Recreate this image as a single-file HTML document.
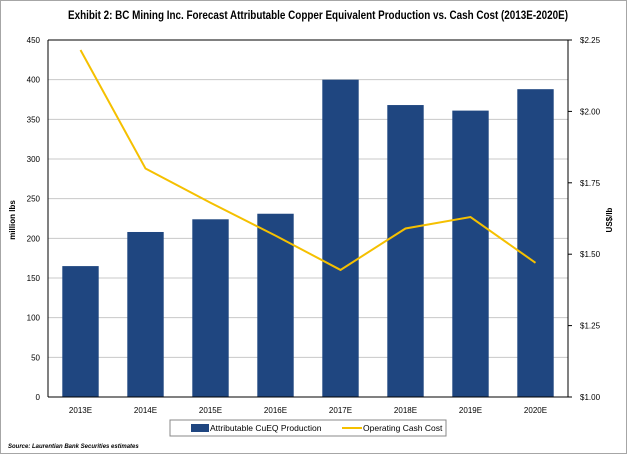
<!DOCTYPE html>
<html><head><meta charset="utf-8"><style>
body{margin:0;width:627px;height:454px;overflow:hidden;background:#fff;font-family:"Liberation Sans",sans-serif}
</style></head><body>
<svg id="c" width="627" height="454" font-family="Liberation Sans, sans-serif">
<rect x="0.5" y="0.5" width="626" height="453" fill="#fff" stroke="#a6a6a6"/>
<text x="318" y="19" text-anchor="middle" font-size="11.5" font-weight="bold" textLength="500" lengthAdjust="spacingAndGlyphs">Exhibit 2: BC Mining Inc. Forecast Attributable Copper Equivalent Production vs. Cash Cost (2013E-2020E)</text>
<g id="grid"></g><g id="bars"></g><g id="line"></g><g id="axes"></g>
<text transform="translate(15,220) rotate(-90)" text-anchor="middle" font-size="8" font-weight="bold">million lbs</text>
<text transform="translate(612,220) rotate(-90)" text-anchor="middle" font-size="8" font-weight="bold">US$/lb</text>
<g>
<rect x="170" y="420" width="276" height="16" fill="#fff" stroke="#888"/>
<rect x="191" y="424" width="18" height="8" fill="#1f4680"/>
<text x="210" y="431" font-size="8.5">Attributable CuEQ Production</text>
<line x1="342" y1="428" x2="362" y2="428" stroke="#f5c000" stroke-width="2"/>
<text x="363" y="431" font-size="8.5">Operating Cash Cost</text>
</g>
<text x="8" y="448" font-size="6" font-style="italic" font-weight="bold">Source:  Laurentian Bank Securities  estimates</text>
</svg>
<script>
const categories=["2013E","2014E","2015E","2016E","2017E","2018E","2019E","2020E"];
const production=[165,208,224,231,400,368,361,388];
const cashCost=[2.215,1.80,1.68,1.565,1.445,1.59,1.63,1.47];
const leftTicks=[0,50,100,150,200,250,300,350,400,450];
const rightTicks=[1.00,1.25,1.50,1.75,2.00,2.25];
const L=48,R=568,T=40,B=397;
const NS="http://www.w3.org/2000/svg";
const yL=v=>B-(v/450)*(B-T);
const yR=v=>B-((v-1)/1.25)*(B-T);
const band=(R-L)/categories.length;
const xC=i=>L+band*(i+0.5);
function mk(p,t,a){const e=document.createElementNS(NS,t);for(const k in a)e.setAttribute(k,a[k]);document.getElementById(p).appendChild(e);return e;}
leftTicks.forEach(v=>{
 if(v>0){const g=mk('grid','line',{x1:L,x2:R,y1:yL(v),y2:yL(v),stroke:'#c8c8c8','stroke-width':1});
 
 }
 const t=mk('axes','text',{x:L-8,y:yL(v)+3,'text-anchor':'end','font-size':8});t.textContent=v;
 
 
});
rightTicks.forEach(v=>{
 mk('axes','line',{x1:R,x2:R+4,y1:yR(v),y2:yR(v),stroke:'#000'});
 const t=mk('axes','text',{x:R+12,y:yR(v)+3,'font-size':8});t.textContent='$'+v.toFixed(2);
 
 
});
categories.forEach((c,i)=>{
 const bw=band*0.56,h=B-yL(production[i]);
 const b=mk('bars','rect',{x:xC(i)-bw/2,y:yL(production[i]),width:bw,height:h,fill:'#1f4680'});
 
 
 const t=mk('axes','text',{x:xC(i),y:B+16,'text-anchor':'middle','font-size':8});t.textContent=c;
 
 
});
const pl=mk('line','polyline',{points:cashCost.map((v,i)=>xC(i)+','+yR(v)).join(' '),fill:'none',stroke:'#f5c000','stroke-width':2});


mk('axes','line',{x1:L,x2:L,y1:T,y2:B,stroke:'#000'});
mk('axes','line',{x1:R,x2:R,y1:T,y2:B,stroke:'#000'});
mk('axes','line',{x1:L,x2:R,y1:B,y2:B,stroke:'#000'});
mk('axes','line',{x1:L,x2:R,y1:T,y2:T,stroke:'#000'});
</script>
</body></html>
